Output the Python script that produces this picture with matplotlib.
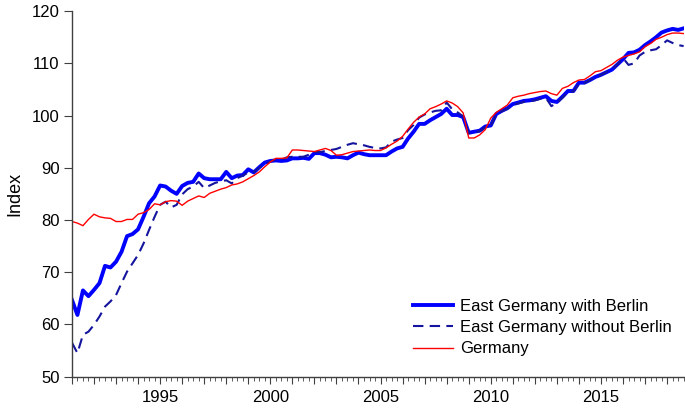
import numpy as np
import matplotlib
matplotlib.use("Agg")
from matplotlib import pyplot as plt
from matplotlib.ticker import MultipleLocator, FuncFormatter

# quarterly index, 1991 Q1 - 2018 Q4
start_year = 1991

east_with_berlin = [
    64.7, 61.8, 66.5, 65.4, 66.6, 67.9, 71.2, 70.9, 72.0, 73.9,
    76.9, 77.3, 78.2, 80.6, 83.2, 84.5, 86.6, 86.4, 85.6, 85.0,
    86.5, 87.1, 87.3, 88.9, 88.0, 87.8, 87.8, 87.8, 89.2, 88.0,
    88.5, 88.6, 89.7, 89.1, 90.1, 91.0, 91.3, 91.4, 91.3, 91.4,
    91.8, 91.8, 91.9, 91.7, 92.8, 92.8, 92.5, 92.0, 92.1, 92.0,
    91.8, 92.4, 92.9, 92.6, 92.4, 92.4, 92.4, 92.4, 93.1, 93.7,
    94.0, 95.6, 96.9, 98.4, 98.4, 99.1, 99.7, 100.3, 101.3, 100.1,
    100.1, 99.7, 96.7, 96.9, 97.1, 97.9, 98.1, 100.3, 100.9, 101.4,
    102.2, 102.5, 102.8, 102.9, 103.1, 103.4, 103.7, 102.8, 102.6, 103.6,
    104.7, 104.7, 106.3, 106.3, 106.8, 107.4, 107.8, 108.3, 108.8, 109.8,
    110.8, 112.0, 112.1, 112.6, 113.5, 114.2, 115.0, 115.9, 116.3, 116.6,
    116.4, 116.7,
]

east_without_berlin = [
    56.5, 54.5, 58.0, 58.6, 59.9, 61.5, 63.4, 64.4, 65.6, 67.9,
    70.1, 71.7, 73.3, 75.5, 78.1, 80.6, 82.9, 83.5, 82.4, 82.9,
    84.9, 85.9, 86.4, 87.3, 86.1, 86.6, 87.1, 87.4, 87.6, 87.0,
    88.0, 88.5, 89.1, 89.2, 90.0, 90.7, 91.2, 91.6, 91.5, 92.0,
    92.1, 92.1, 92.1, 92.5, 93.0, 93.0, 93.2, 93.4, 93.6, 94.0,
    94.4, 94.7, 94.5, 94.3, 94.0, 93.8, 93.7, 93.9, 95.0, 95.4,
    95.7, 97.2, 98.2, 99.6, 100.2, 100.6, 100.9, 101.0, 102.5, 101.2,
    100.6, 99.8, 96.6, 96.8, 97.0, 97.8, 98.0, 100.2, 100.8, 101.3,
    102.0, 102.3, 102.6, 102.7, 102.9, 103.2, 103.4, 101.8, 102.4, 103.4,
    104.5, 104.6, 106.1, 106.2, 106.8, 107.3, 107.8, 108.3, 108.9, 109.8,
    111.0, 109.7, 110.0, 111.5, 112.2, 112.5, 112.7, 113.5, 114.4, 113.9,
    113.5, 113.3,
]

germany = [
    79.7, 79.4, 78.9, 80.1, 81.1, 80.6, 80.4, 80.3, 79.7, 79.7,
    80.1, 80.1, 81.1, 81.4, 82.0, 83.1, 82.9, 83.5, 83.7, 83.6,
    82.8, 83.6, 84.1, 84.6, 84.3, 85.1, 85.5, 85.9, 86.2, 86.7,
    86.9, 87.3, 87.9, 88.5, 89.2, 90.2, 91.1, 91.8, 91.8, 91.9,
    93.4, 93.4, 93.3, 93.2, 93.1, 93.4, 93.7, 93.3, 92.4, 92.5,
    92.8, 93.1, 93.2, 93.3, 93.4, 93.3, 93.3, 93.8, 94.5, 95.1,
    96.0, 97.4, 98.7, 99.7, 100.3, 101.3, 101.7, 102.2, 102.8, 102.4,
    101.7, 100.5, 95.7, 95.7, 96.3, 97.3, 99.5, 100.6, 101.3, 102.0,
    103.4, 103.7, 103.9, 104.2, 104.4, 104.6, 104.7, 104.2, 103.9, 105.2,
    105.6, 106.3, 106.8, 106.9, 107.6, 108.4, 108.6, 109.2, 109.8, 110.6,
    111.2, 111.5, 111.8, 112.2, 113.2, 113.8, 114.6, 115.0, 115.5, 115.8,
    115.8, 115.7,
]

labels = ["East Germany with Berlin", "East Germany without Berlin", "Germany"]

t = start_year + np.arange(len(germany)) / 4.0

plt.rcParams["font.family"] = ["Liberation Sans", "DejaVu Sans"]
plt.rcParams["font.size"] = 12

fig = plt.figure(figsize=(6.85, 4.12), dpi=100)
ax = fig.add_axes([0.105, 0.086, 0.893, 0.887])

ax.plot(t, east_with_berlin, color="#0000ff", lw=2.8, label=labels[0])
ax.plot(t, east_without_berlin, color="#14149e", lw=1.5, dashes=(5, 3), label=labels[1])
ax.plot(t, germany, color="#ff0000", lw=1.0, label=labels[2])

ax.set_xlim(start_year, t[-1])
ax.set_ylim(50, 120)
ax.yaxis.set_major_locator(MultipleLocator(10))
ax.xaxis.set_major_locator(MultipleLocator(1))
ax.xaxis.set_minor_locator(MultipleLocator(0.25))
ax.xaxis.set_major_formatter(FuncFormatter(lambda v, p: "%d" % round(v) if round(v) % 5 == 0 else ""))

for s in ["top", "right"]:
    ax.spines[s].set_visible(False)
for s in ["left", "bottom"]:
    ax.spines[s].set_color("#404040")
    ax.spines[s].set_linewidth(1.0)

ax.tick_params(axis="y", length=6, color="#404040", labelsize=12, pad=3)
ax.tick_params(axis="x", which="major", length=5, color="#404040", labelsize=12, pad=5)
ax.tick_params(axis="x", which="minor", length=3, color="#404040")

ax.set_ylabel("Index", fontsize=13, labelpad=6)

ax.legend(loc="upper left", bbox_to_anchor=(0.557, 0.213), frameon=False,
          borderpad=0, borderaxespad=0, handlelength=2.4, handletextpad=0.42,
          labelspacing=0.38, fontsize=12)

plt.savefig("out.png", dpi=100)
